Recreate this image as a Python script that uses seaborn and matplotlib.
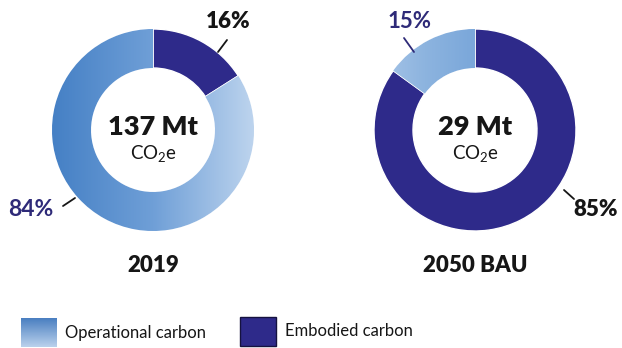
import numpy as np
import matplotlib
matplotlib.use("Agg")
import matplotlib.pyplot as plt
import seaborn as sns
from matplotlib.colors import LinearSegmentedColormap
from matplotlib.patches import Rectangle

# ---- data ----
years = ["2019", "2050 BAU"]
totals = ["137 Mt", "29 Mt"]
categories = ["Embodied carbon", "Operational carbon"]
embodied = [16, 85]
operational = [84, 15]

sns.set_theme(style="white")
plt.rcParams['font.family'] = ['Lato', 'DejaVu Sans']
plt.rcParams['mathtext.fontset'] = 'custom'
plt.rcParams['mathtext.rm'] = 'Lato'
plt.rcParams['mathtext.it'] = 'Lato'
plt.rcParams['mathtext.default'] = 'regular'

W, H = 622, 348
def Y(y):
    return H - y

DARK = '#2E2A8A'
NAVY_TXT = '#2E2A78'
TXT = '#161616'
BOLD = 'heavy'

fig = plt.figure(figsize=(6.22, 3.48), dpi=100)
ax = fig.add_axes([0, 0, 1, 1])

centers = [(153, Y(130)), (475, Y(130))]
R = 101
ring = 39
cmaps = [LinearSegmentedColormap.from_list('op1', ['#4580C5', '#6F9FD7', '#BDD4EE']),
         LinearSegmentedColormap.from_list('op2', ['#A9C6E8', '#8DB4DF', '#7AA7DA'])]

grad = np.linspace(0, 1, 256).reshape(1, -1)
for i, (cx, cy) in enumerate(centers):
    vals = [embodied[i], operational[i]]
    wedges, _ = ax.pie(vals, colors=[DARK, '#7FAAD9'], startangle=90, counterclock=False,
                       radius=R, center=(cx, cy),
                       wedgeprops=dict(width=ring, edgecolor='white', linewidth=1.0),
                       frame=True)
    w = wedges[1]
    x0, x1 = (cx - R, cx + R) if i == 0 else (cx - R, cx)
    im = ax.imshow(grad, cmap=cmaps[i], extent=[x0, x1, cy - R, cy + R],
                   aspect='auto', zorder=w.get_zorder() + 0.1, interpolation='bicubic')
    im.set_clip_path(w)
    ax.text(cx, Y(127), totals[i], ha='center', va='center', fontsize=19.5,
            fontweight=BOLD, color=TXT)
    ax.text(cx, Y(153), 'CO$_2$e', ha='center', va='center', fontsize=13.5, color=TXT)
    ax.text(cx, Y(266), years[i], ha='center', va='center', fontsize=16,
            fontweight=BOLD, color=TXT)

# percentage labels with leader lines
ax.plot([218, 227], [Y(52), Y(40)], color=TXT, lw=1.3)
ax.text(228, Y(22), f"{embodied[0]}%", ha='center', va='center', fontsize=16,
        fontweight=BOLD, color=TXT)
ax.plot([63, 75], [Y(206), Y(198)], color=TXT, lw=1.3)
ax.text(31, Y(209), f"{operational[0]}%", ha='center', va='center', fontsize=16.5,
        fontweight='bold', color=NAVY_TXT)
ax.plot([404, 414], [Y(38), Y(52)], color=NAVY_TXT, lw=1.3)
ax.text(410, Y(22), f"{operational[1]}%", ha='center', va='center', fontsize=16,
        fontweight='bold', color=NAVY_TXT)
ax.plot([564, 574], [Y(190), Y(199)], color=TXT, lw=1.3)
ax.text(596, Y(210), f"{embodied[1]}%", ha='center', va='center', fontsize=16,
        fontweight=BOLD, color=TXT)

# legend
lg = LinearSegmentedColormap.from_list('lg', ['#4A7FC1', '#BAD1EC'])
r1 = Rectangle((21, Y(347)), 36, 29, facecolor='#7FAAD9', edgecolor='none')
ax.add_patch(r1)
im = ax.imshow(np.linspace(0, 1, 64).reshape(-1, 1), cmap=lg,
               extent=[21, 57, Y(347), Y(318)], aspect='auto', zorder=r1.get_zorder() + 0.1)
im.set_clip_path(r1)
ax.add_patch(Rectangle((240, Y(346)), 36, 29, facecolor=DARK, edgecolor='#15123F', lw=1))
ax.text(65, Y(333), categories[1], ha='left', va='center', fontsize=12, color=TXT)
ax.text(285, Y(331), categories[0], ha='left', va='center', fontsize=12, color=TXT)

ax.set_xlim(0, W)
ax.set_ylim(0, H)
ax.set_aspect('equal')
ax.axis('off')
fig.savefig('out.png', dpi=100)
